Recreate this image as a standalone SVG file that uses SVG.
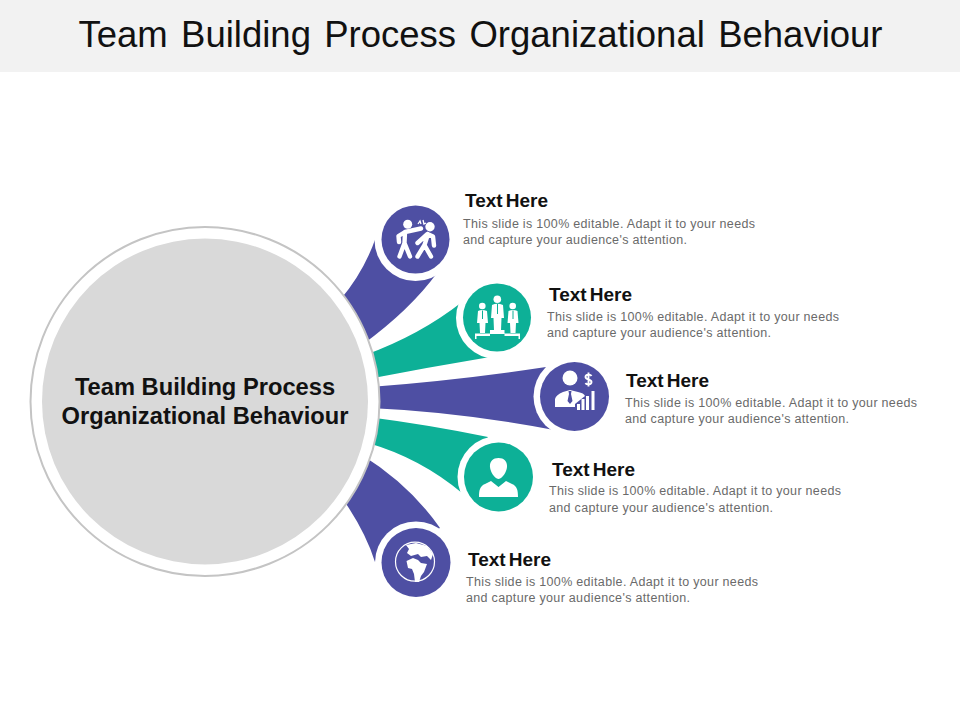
<svg xmlns="http://www.w3.org/2000/svg" width="960" height="720" viewBox="0 0 960 720">
<style>
text{font-family:"Liberation Sans",Arial,sans-serif}
.t{font-size:36.5px;fill:#111;text-anchor:middle;word-spacing:3.2px}
.c{font-size:23.7px;font-weight:bold;fill:#111;text-anchor:middle}
.h{font-size:19px;font-weight:bold;fill:#111;word-spacing:-2.2px}
.b{font-size:12.5px;fill:#6a6a6a;letter-spacing:.36px;word-spacing:-.2px}
.p{fill:#4e4fa3}.g{fill:#0db097}
.ring{fill:#fff}
.i{fill:#fff}
.il{fill:none;stroke:#fff}
.limb{fill:none;stroke:#fff;stroke-width:4.4;stroke-linecap:round;stroke-linejoin:round}
</style>
<rect width="960" height="72" fill="#f2f2f2"/>
<text class="t" x="480.500" y="47">Team Building Process Organizational Behaviour</text>
<g id="connectors">
<path class="p" d="M340 300Q364 272 376 237L437 273Q410 310 362 345Z"/>
<path class="g" d="M365 355Q420 335 462 302L490 357Q430 367 368 379Z"/>
<path class="p" d="M370 387Q460 380 546 367L554 430Q460 412 370 408Z"/>
<path class="g" d="M368 417Q430 425 488 437L462 493Q420 458 368 443Z"/>
<path class="p" d="M362 455Q410 485 440 528L375 562Q365 530 340 495Z"/>
</g>
<g id="center">
<circle cx="205" cy="401.500" r="174.500" fill="#fff" stroke="#c4c4c4" stroke-width="2"/>
<circle cx="205" cy="401.500" r="163" fill="#d9d9d9"/>
<text class="c" x="205" y="395">Team Building Process</text>
<text class="c" x="205" y="424">Organizational Behaviour</text>
</g>
<g id="node1">
<circle class="ring" cx="415.500" cy="240" r="41"/>
<circle class="p" cx="415.500" cy="239.500" r="34"/>
<circle class="i" cx="407.700" cy="224.300" r="4.500"/>
<circle class="i" cx="430" cy="226.700" r="4.700"/>
<path class="limb" d="M421 228.500L405 232L398.500 236L399 242M405 232L404.500 243M404.500 243L399.500 256.500M404.500 243L410 256.500"/>
<path class="limb" d="M417.500 243L427.500 234L433 236.500L434 245.500M428 234L424.500 245M424.500 245L417.500 256.500M424.500 245L431 256.500"/>
<path class="il" stroke-width="1.300" d="M418 224l2-3 1 3M423 220l1 4 2-1"/>
<text class="h" x="465" y="207">Text Here</text>
<text class="b" x="463" y="228">This slide is 100% editable. Adapt it to your needs</text>
<text class="b" x="463" y="244">and capture your audience's attention.</text>
</g>
<g id="node2">
<circle class="ring" cx="497" cy="318" r="41"/>
<circle class="g" cx="497" cy="317.500" r="34"/>
<circle class="i" cx="497.300" cy="299.300" r="3.800"/>
<path class="i" d="M492 305Q497 302.500 503 305L504 318H501.500L501 330.500H494L493.500 318H491Z"/>
<circle class="i" cx="482.300" cy="306" r="3.300"/>
<path class="i" d="M478 311Q482 309 487 311L488 323H485.500L485 333H480L479.500 323H477Z"/>
<circle class="i" cx="512.700" cy="306" r="3.300"/>
<path class="i" d="M508.500 311Q513 309 517.500 311L518.500 323H516L515.500 333H510.500L510 323H507.500Z"/>
<path class="il" stroke-width="1" style="stroke:#0db097" d="M497.500 304V314M482.500 310.500V319M513 310.500V319"/>
<path class="i" d="M475 333.500H490V330H504.500V333.500H520V339H518.500V336H504.500V334H490V336H476.500V339H475Z"/>
<text class="h" x="549" y="301">Text Here</text>
<text class="b" x="547" y="321">This slide is 100% editable. Adapt it to your needs</text>
<text class="b" x="547" y="337">and capture your audience's attention.</text>
</g>
<g id="node3">
<circle class="ring" cx="574.500" cy="396.500" r="41"/>
<circle class="p" cx="574.500" cy="396.500" r="34.500"/>
<circle class="i" cx="570" cy="378" r="7.500"/>
<path class="i" d="M555 407V399Q556 395 563 392L570 390L578 392Q584 393 585 396L575 404V407Z"/>
<path class="p" d="M568.500 391h3l-.5 3 1.500 7-2.500 3-2.500-3 1.500-7Z"/>
<path class="i" d="M577 410h3v-6h-3ZM581.500 410h3v-11h-3ZM586 410h3v-14h-3ZM591.500 410h3v-19h-3Z"/>
<path class="il" stroke-width="1.900" d="M591.500 376c-1-2-6-2-6 1s6 2 6 5-5 3-6 1M588.500 372.500v14"/>
<text class="h" x="626" y="387">Text Here</text>
<text class="b" x="625" y="407">This slide is 100% editable. Adapt it to your needs</text>
<text class="b" x="625" y="423">and capture your audience's attention.</text>
</g>
<g id="node4">
<circle class="ring" cx="498.500" cy="477" r="41"/>
<circle class="g" cx="498.500" cy="477" r="34.500"/>
<path class="i" d="M498.500 458c6 0 9 4 8.500 9-.5 5-4 11-8.500 12-4.500-1-8-7-8.500-12-.5-5 2.500-9 8.500-9ZM491 481l7.500 6 7.500-6 6 3c5 2 6 6 6 13H479c0-7 1-11 6-13Z"/>
<text class="h" x="552" y="476">Text Here</text>
<text class="b" x="549" y="495">This slide is 100% editable. Adapt it to your needs</text>
<text class="b" x="549" y="512">and capture your audience's attention.</text>
</g>
<g id="node5">
<circle class="ring" cx="416" cy="562.500" r="41"/>
<circle class="p" cx="416" cy="562.500" r="34.500"/>
<circle class="il" cx="415" cy="561.700" r="19.500" stroke-width="1.200"/>
<path class="i" d="M406 545L416 543L427 546L433 554L431 560L427 556L421 557L418 554L411 556L407 553L409 549Z"/>
<path class="i" d="M406.500 561L413 558L418 560L421 563L427 564L424 572L421 576L419 582L415 582L414 574L412 569L408 568Z"/>
<text class="h" x="468" y="566">Text Here</text>
<text class="b" x="466" y="586">This slide is 100% editable. Adapt it to your needs</text>
<text class="b" x="466" y="602">and capture your audience's attention.</text>
</g>
</svg>
